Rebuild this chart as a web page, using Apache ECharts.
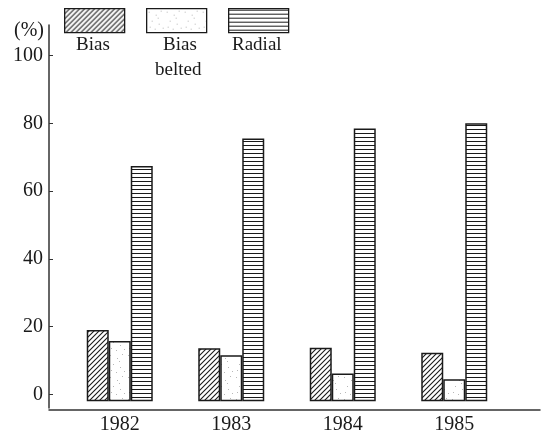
<!DOCTYPE html>
<html>
<head>
<meta charset="utf-8">
<script src="https://cdn.jsdelivr.net/npm/echarts@6/dist/echarts.min.js"></script>
<style>
html, body { margin: 0; padding: 0; background: #fff; }
#chart { width: 542px; height: 435px; }
</style>
</head>
<body>
<div id="chart"></div>
<script>
var years = ['1982', '1983', '1984', '1985'];
var seriesNames = ['Bias', 'Bias belted', 'Radial'];
var biasValues = [19.0, 13.6, 13.8, 12.3];
var beltedValues = [15.8, 11.6, 6.2, 4.5];
var radialValues = [67.4, 75.5, 78.5, 80.0];
var yTicks = [0, 20, 40, 60, 80, 100];

var ink = '#1a1a1a';
var serif = '"Liberation Serif", "DejaVu Serif", serif';

// tiles for the fill patterns
function makeTile(w, h, draw) {
    var c = document.createElement('canvas');
    c.width = w;
    c.height = h;
    var ctx = c.getContext('2d');
    ctx.fillStyle = '#fff';
    ctx.fillRect(0, 0, w, h);
    draw(ctx);
    return c;
}

var hatchTile = makeTile(5, 5, function(ctx) {
    ctx.strokeStyle = ink;
    ctx.lineWidth = 1.1;
    ctx.beginPath();
    ctx.moveTo(0, 5); ctx.lineTo(5, 0);
    ctx.moveTo(-1, 1); ctx.lineTo(1, -1);
    ctx.moveTo(4, 6); ctx.lineTo(6, 4);
    ctx.stroke();
});

var lineTile = makeTile(8, 4, function(ctx) {
    ctx.fillStyle = ink;
    ctx.fillRect(0, 1, 8, 1);
});

var speckTile = makeTile(18, 22, function(ctx) {
    ctx.fillStyle = '#b8b8b8';
    var dots = [[2, 3], [9, 6], [14, 2], [5, 12], [12, 15], [16, 19], [3, 18], [8, 20], [11, 9]];
    for (var i = 0; i < dots.length; i++) {
        ctx.fillRect(dots[i][0], dots[i][1], 1, 1);
    }
});

var fills = [hatchTile, speckTile, lineTile];
var values = [biasValues, beltedValues, radialValues];

var series = [];
for (var i = 0; i < seriesNames.length; i++) {
    series.push({
        name: seriesNames[i],
        type: 'bar',
        xAxisIndex: 0,
        yAxisIndex: 0,
        data: values[i],
        barWidth: 22,
        barGap: '0%',
        itemStyle: {
            color: {image: fills[i], repeat: 'repeat'},
            borderColor: ink,
            borderWidth: 1.5
        },
        emphasis: {disabled: true}
    });
}

var legendLefts = [64, 146, 228];
var legends = [];
for (var i = 0; i < seriesNames.length; i++) {
    legends.push({
        data: [{name: seriesNames[i], icon: 'rect'}],
        left: legendLefts[i],
        top: 8,
        padding: 0,
        itemWidth: 60,
        itemHeight: 24,
        selectedMode: false,
        formatter: function() { return ''; },
        itemStyle: {borderColor: ink, borderWidth: 1.3}
    });
}

var labelFont = '19px ' + serif;
var myChart = echarts.init(document.getElementById('chart'));
myChart.setOption({
    animation: false,
    backgroundColor: '#fff',
    legend: legends,
    grid: [
        {left: 64, right: 32, top: 25, bottom: 25},
        {left: 49, right: 2, top: 25, bottom: 25}
    ],
    xAxis: [
        {
            type: 'category',
            gridIndex: 0,
            data: years,
            axisLine: {show: false},
            axisTick: {show: false},
            axisLabel: {margin: 7, color: ink, fontSize: 20, fontFamily: serif}
        },
        {
            type: 'value',
            gridIndex: 1,
            min: 0,
            max: 1,
            axisLine: {show: true, lineStyle: {color: '#333', width: 1.5}},
            axisTick: {show: false},
            axisLabel: {show: false},
            splitLine: {show: false}
        }
    ],
    yAxis: [
        {
            type: 'value',
            gridIndex: 0,
            min: -4,
            max: 109,
            startValue: -2,
            offset: 15,
            name: '(%)',
            nameLocation: 'end',
            nameGap: -6,
            nameTextStyle: {color: ink, fontSize: 20, fontFamily: serif, align: 'right', verticalAlign: 'middle', padding: [0, 5, 0, 0]},
            axisLine: {show: true, lineStyle: {color: '#333', width: 1.5}},
            axisTick: {show: true, inside: true, length: 4, customValues: yTicks, lineStyle: {color: '#333'}},
            axisLabel: {margin: 6, color: ink, fontSize: 20, fontFamily: serif, customValues: yTicks},
            splitLine: {show: false}
        },
        {type: 'value', gridIndex: 1, show: false}
    ],
    graphic: [
        {type: 'text', left: 76, top: 36, style: {text: 'Bias', font: labelFont, fill: ink}},
        {type: 'text', left: 163, top: 36, style: {text: 'Bias', font: labelFont, fill: ink}},
        {type: 'text', left: 155, top: 61, style: {text: 'belted', font: labelFont, fill: ink}},
        {type: 'text', left: 232, top: 36, style: {text: 'Radial', font: labelFont, fill: ink}}
    ],
    series: series
});
</script>
</body>
</html>
